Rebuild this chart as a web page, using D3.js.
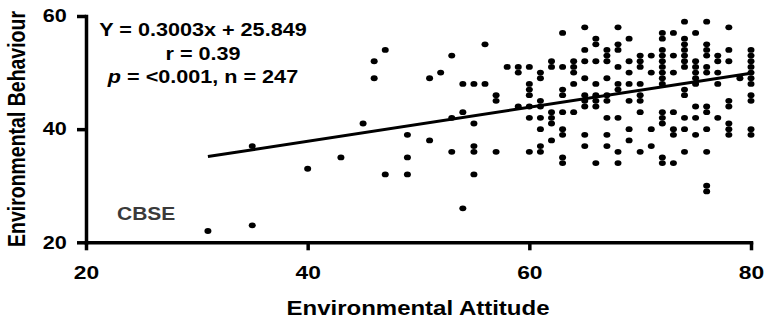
<!DOCTYPE html>
<html>
<head>
<meta charset="utf-8">
<script src="https://cdn.jsdelivr.net/npm/d3@7"></script>
<style>
  html, body { margin: 0; padding: 0; background: #fff; }
  svg { display: block; }
  text { font-family: "Liberation Sans", Arial, sans-serif; font-weight: bold; }
</style>
</head>
<body>
<svg id="chart" width="770" height="322"></svg>
<script>
// Environmental attitude (x) and environmental behaviour (y) scores, one entry per plotted student
const attitude = [
  31,
  35, 35,
  40,
  43,
  45,
  46, 46,
  47, 47,
  49, 49, 49,
  51, 51,
  52,
  53, 53, 53,
  54, 54, 54,
  55, 55, 55, 55, 55,
  56, 56,
  57, 57, 57,
  58,
  59, 59, 59,
  60, 60, 60, 60, 60, 60, 60,
  61, 61, 61, 61, 61, 61, 61, 61,
  62, 62, 62, 62, 62, 62,
  63, 63, 63, 63, 63, 63, 63, 63, 63,
  64, 64, 64, 64, 64,
  65, 65, 65, 65, 65, 65, 65, 65, 65,
  66, 66, 66, 66, 66, 66, 66, 66,
  67, 67, 67, 67, 67, 67, 67, 67, 67,
  68, 68, 68, 68, 68, 68, 68, 68, 68,
  69, 69, 69, 69, 69, 69, 69,
  70, 70, 70, 70, 70, 70, 70, 70,
  71, 71, 71, 71,
  72, 72, 72, 72, 72, 72, 72, 72, 72, 72, 72, 72, 72, 72,
  73, 73, 73, 73, 73, 73, 73,
  74, 74, 74, 74, 74, 74, 74, 74, 74, 74, 74, 74,
  75, 75, 75, 75, 75, 75, 75, 75, 75,
  76, 76, 76, 76, 76, 76, 76, 76, 76, 76, 76, 76,
  77, 77, 77, 77, 77,
  78, 78, 78, 78, 78, 78, 78, 78,
  79,
  80, 80, 80, 80, 80, 80, 80, 80, 80, 80, 80
];
const behaviour = [
  22,
  23, 37,
  33,
  35,
  41,
  52, 49,
  54, 32,
  39, 35, 32,
  49, 38,
  50,
  53, 42, 36,
  48, 43, 26,
  48, 41, 37, 36, 32,
  55, 48,
  46, 45, 36,
  51,
  51, 50, 44,
  51, 48, 47, 46, 44, 42, 36,
  50, 49, 45, 44, 42, 40, 37, 36,
  52, 51, 43, 42, 41, 38,
  57, 51, 47, 46, 43, 40, 39, 35, 34,
  52, 51, 50, 48, 43,
  58, 54, 52, 49, 46, 45, 44, 39, 37,
  56, 55, 52, 48, 46, 45, 44, 34,
  54, 53, 52, 49, 46, 45, 42, 39, 37,
  58, 55, 54, 51, 48, 47, 42, 36, 34,
  56, 52, 50, 48, 45, 40, 38,
  53, 52, 51, 48, 46, 45, 43, 36,
  53, 50, 40, 37,
  57, 56, 54, 53, 52, 51, 50, 49, 48, 43, 42, 41, 35, 34,
  57, 53, 50, 43, 40, 39, 34,
  59, 56, 55, 54, 53, 52, 51, 47, 46, 42, 40, 36,
  57, 52, 51, 50, 49, 48, 44, 42, 39,
  59, 55, 54, 53, 51, 50, 44, 43, 40, 36, 30, 29,
  53, 52, 50, 48, 42,
  58, 54, 52, 45, 44, 41, 40, 39,
  49,
  54, 53, 52, 51, 50, 49, 48, 46, 45, 40, 39
];

const xTicks = [20, 40, 60, 80];
const yTicks = [20, 40, 60];

// Least-squares fit reported on the chart
const slope = 0.3003;
const intercept = 25.849;
const statLines = ["Y = 0.3003x + 25.849", "r = 0.39"];
const statP = { symbol: "p", rest: " = <0.001, n = 247" };
const groupLabel = "CBSE";
const xTitle = "Environmental Attitude";
const yTitle = "Environmental Behaviour";

const SX = 1.2;   // horizontal stretch of the lettering
const svg = d3.select("#chart");
svg.append("rect").attr("width", 770).attr("height", 322).attr("fill", "#fff");

const x = d3.scaleLinear().domain([20, 80]).range([86, 751]);
const y = d3.scaleLinear().domain([20, 60]).range([242.3, 16]);

// x axis
const gx = svg.append("g")
  .attr("transform", `translate(0,${y(20)})`)
  .call(d3.axisBottom(x).tickValues(xTicks).tickSize(8).tickSizeOuter(0).tickPadding(15))
  .attr("font-family", null).attr("font-size", 19);
gx.select(".domain").attr("stroke-width", 3.5).attr("stroke-linecap", "square");
gx.selectAll(".tick line").attr("stroke-width", 3.5);
gx.selectAll(".tick text").attr("fill", "#000").attr("transform", `scale(${SX},1)`);

// y axis
const gy = svg.append("g")
  .attr("transform", `translate(${x(20)},0)`)
  .call(d3.axisLeft(y).tickValues(yTicks).tickSize(9).tickSizeOuter(0).tickPadding(10))
  .attr("font-family", null).attr("font-size", 18);
gy.select(".domain").attr("stroke-width", 3.5).attr("stroke-linecap", "square");
gy.selectAll(".tick line").attr("stroke-width", 3.5);
gy.selectAll(".tick text").attr("fill", "#000")
  .attr("x", -19.3 / SX)
  .attr("transform", `scale(${SX},1)`);

// regression line over the observed attitude range
const xr = d3.extent(attitude);
svg.append("path")
  .datum(xr)
  .attr("fill", "none")
  .attr("stroke", "#000")
  .attr("stroke-width", 3)
  .attr("d", d3.line().x(d => x(d)).y(d => y(slope * d + intercept)));

// scatter points
svg.append("g").selectAll("ellipse")
  .data(attitude.map((a, i) => [a, behaviour[i]]))
  .join("ellipse")
  .attr("cx", d => x(d[0]))
  .attr("cy", d => y(d[1]))
  .attr("rx", 3.5)
  .attr("ry", 2.9)
  .attr("fill", "#000");

// statistics block
const statX = 203;
const baselines = [36, 59.5, 83];
statLines.forEach((s, i) => {
  svg.append("text")
    .attr("transform", `translate(${statX},${baselines[i]}) scale(${SX},1)`)
    .attr("text-anchor", "middle")
    .attr("font-size", 18)
    .attr("fill", "#000")
    .text(s);
});
const pLine = svg.append("text")
  .attr("transform", `translate(${statX},${baselines[2]}) scale(${SX},1)`)
  .attr("text-anchor", "middle")
  .attr("font-size", 18)
  .attr("fill", "#000");
pLine.append("tspan").attr("font-style", "italic").text(statP.symbol);
pLine.append("tspan").text(statP.rest);

// group label
svg.append("text")
  .attr("transform", `translate(117,220) scale(${SX},1)`)
  .attr("font-size", 17.5)
  .attr("fill", "#3a3a3a")
  .text(groupLabel);

// axis titles
svg.append("text")
  .attr("transform", `translate(418,314.5) scale(${SX},1)`)
  .attr("text-anchor", "middle")
  .attr("font-size", 20)
  .attr("fill", "#000")
  .text(xTitle);
svg.append("text")
  .attr("transform", `translate(25,129) scale(${SX},1) rotate(-90)`)
  .attr("text-anchor", "middle")
  .attr("font-size", 19.5)
  .attr("fill", "#000")
  .text(yTitle);
</script>
</body>
</html>
